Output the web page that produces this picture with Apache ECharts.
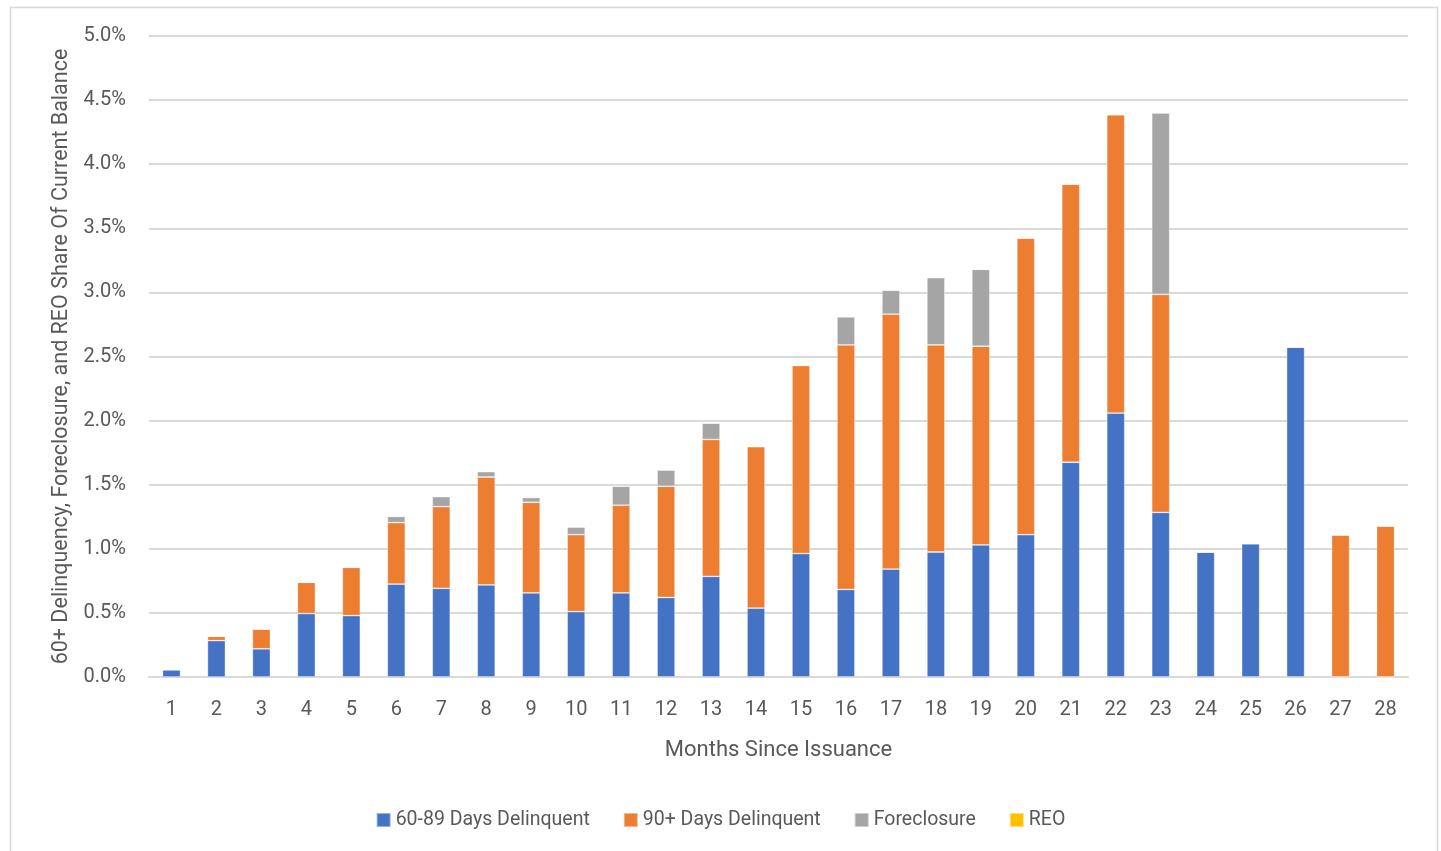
<!DOCTYPE html>
<html lang="en">
<head>
    <meta charset="UTF-8">
    <title>Delinquency by month since issuance</title>
    <style>
        html, body { margin: 0; padding: 0; background: #fff; }
    </style>
</head>
<body>
    <div id="main" style="width:1441px;height:851px;"></div>
    <script src="https://cdn.jsdelivr.net/npm/echarts@6/dist/echarts.min.js"></script>
    <script>
        // months since issuance
        var months = ['1', '2', '3', '4', '5', '6', '7', '8', '9', '10', '11', '12', '13', '14',
            '15', '16', '17', '18', '19', '20', '21', '22', '23', '24', '25', '26', '27', '28'];
        // share of current balance, in percent
        var days60to89 = [0.057, 0.284, 0.22, 0.495, 0.479, 0.725, 0.692, 0.718, 0.656, 0.51, 0.656, 0.62, 0.785, 0.537,
            0.963, 0.683, 0.842, 0.975, 1.03, 1.11, 1.675, 2.059, 1.284, 0.975, 1.04, 2.573, 0, 0];
        var days90plus = [0, 0.034, 0.154, 0.244, 0.377, 0.479, 0.637, 0.842, 0.707, 0.60, 0.684, 0.868, 1.068, 1.26,
            1.467, 1.907, 1.988, 1.615, 1.55, 2.314, 2.17, 2.327, 1.701, 0, 0, 0, 1.108, 1.178];
        var foreclosure = [0, 0, 0, 0, 0, 0.049, 0.078, 0.042, 0.037, 0.06, 0.148, 0.127, 0.127, 0,
            0, 0.22, 0.187, 0.525, 0.60, 0, 0, 0, 1.415, 0, 0, 0, 0, 0];
        var reo = [0, 0, 0, 0, 0, 0, 0, 0, 0, 0, 0, 0, 0, 0,
            0, 0, 0, 0, 0, 0, 0, 0, 0, 0, 0, 0, 0, 0];

        var fontName = "'Roboto', sans-serif";
        var textColor = '#595959';

        function makeSeries(name, data, color) {
            return {
                name: name,
                type: 'bar',
                stack: 'total',
                barWidth: 18,
                itemStyle: {
                    color: color,
                    borderColor: 'rgba(255,255,255,0.45)',
                    borderWidth: 0.8
                },
                data: data
            };
        }

        var myChart = echarts.init(document.getElementById('main'));
        var option = {
            animation: false,
            textStyle: { fontFamily: fontName },
            grid: {
                left: 149,
                right: 33,
                top: 36,
                bottom: 174
            },
            legend: {
                bottom: 16,
                left: 'center',
                itemWidth: 14,
                itemHeight: 14,
                itemGap: 33,
                icon: 'rect',
                textStyle: { fontFamily: fontName, fontSize: 19.5, color: textColor },
                data: ['60-89 Days Delinquent', '90+ Days Delinquent', 'Foreclosure', 'REO']
            },
            xAxis: {
                type: 'category',
                data: months,
                name: 'Months Since Issuance',
                nameLocation: 'middle',
                nameGap: 62,
                nameTextStyle: { fontFamily: fontName, fontSize: 22, color: textColor },
                axisTick: { show: false },
                axisLine: { lineStyle: { color: '#d9d9d9', width: 2 } },
                axisLabel: { fontFamily: fontName, fontSize: 20, color: textColor, margin: 23 }
            },
            yAxis: {
                type: 'value',
                min: 0,
                max: 5,
                interval: 0.5,
                name: '60+ Delinquency, Foreclosure, and REO Share Of Current Balance',
                nameLocation: 'middle',
                nameGap: 76,
                nameTextStyle: { fontFamily: fontName, fontSize: 21.5, color: textColor },
                axisLine: { show: false },
                axisTick: { show: false },
                splitLine: { lineStyle: { color: '#d9d9d9', width: 2 } },
                axisLabel: {
                    fontFamily: fontName,
                    fontSize: 20,
                    color: textColor,
                    margin: 23,
                    formatter: function (v) { return v.toFixed(1) + '%'; }
                }
            },
            graphic: [{
                type: 'rect',
                shape: { x: 10.5, y: 7.5, width: 1427, height: 860 },
                style: { fill: null, stroke: '#d9d9d9', lineWidth: 1.5 },
                silent: true
            }],
            series: [
                makeSeries('60-89 Days Delinquent', days60to89, '#4472C4'),
                makeSeries('90+ Days Delinquent', days90plus, '#ED7D31'),
                makeSeries('Foreclosure', foreclosure, '#A5A5A5'),
                makeSeries('REO', reo, '#FFC000')
            ]
        };
        myChart.setOption(option);
    </script>
</body>
</html>
